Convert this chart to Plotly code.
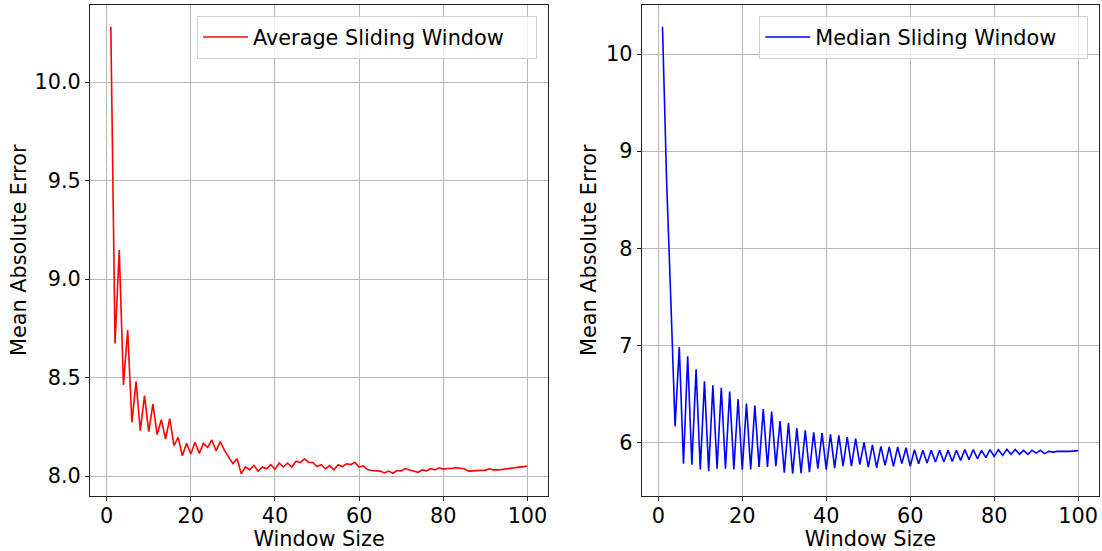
import plotly.graph_objects as go

window_sizes = list(range(1, 101))

avg_mae = [
    10.28, 8.673, 9.147, 8.462, 8.741, 8.272, 8.480, 8.230, 8.408, 8.225,
    8.365, 8.210, 8.286, 8.188, 8.292, 8.154, 8.196, 8.103, 8.166, 8.112,
    8.171, 8.115, 8.166, 8.145, 8.183, 8.128, 8.175, 8.130, 8.096, 8.063,
    8.088, 8.012, 8.046, 8.032, 8.054, 8.024, 8.046, 8.037, 8.058, 8.034,
    8.066, 8.046, 8.066, 8.046, 8.075, 8.068, 8.087, 8.070, 8.069, 8.048,
    8.057, 8.037, 8.053, 8.031, 8.057, 8.048, 8.062, 8.058, 8.070, 8.045,
    8.052, 8.033, 8.028, 8.025, 8.025, 8.016, 8.025, 8.014, 8.028, 8.026,
    8.038, 8.031, 8.025, 8.019, 8.031, 8.026, 8.037, 8.031, 8.042, 8.035,
    8.038, 8.038, 8.042, 8.038, 8.037, 8.025, 8.026, 8.026, 8.028, 8.030,
    8.037, 8.031, 8.031, 8.033, 8.037, 8.040, 8.042, 8.045, 8.047, 8.050,
]

median_mae = [
    10.28, 8.673, 7.45, 6.168, 6.985, 5.784, 6.889, 5.773, 6.755, 5.725,
    6.631, 5.707, 6.590, 5.732, 6.566, 5.732, 6.525, 5.725, 6.449, 5.722,
    6.402, 5.725, 6.381, 5.749, 6.346, 5.749, 6.319, 5.759, 6.222, 5.691,
    6.202, 5.681, 6.147, 5.687, 6.127, 5.697, 6.106, 5.732, 6.099, 5.722,
    6.085, 5.738, 6.075, 5.759, 6.058, 5.759, 6.041, 5.773, 6.003, 5.749,
    5.977, 5.742, 5.962, 5.766, 5.955, 5.756, 5.955, 5.784, 5.948, 5.756,
    5.928, 5.784, 5.921, 5.790, 5.921, 5.800, 5.921, 5.800, 5.921, 5.807,
    5.921, 5.818, 5.928, 5.825, 5.928, 5.835, 5.921, 5.846, 5.928, 5.859,
    5.928, 5.869, 5.931, 5.880, 5.931, 5.880, 5.921, 5.880, 5.921, 5.893,
    5.921, 5.887, 5.910, 5.903, 5.910, 5.907, 5.910, 5.910, 5.913, 5.918,
]

left_yticks = [8.0, 8.5, 9.0, 9.5, 10.0]
right_yticks = [6, 7, 8, 9, 10]
xticks = [0, 20, 40, 60, 80, 100]

FONT = "DejaVu Sans"
FS = 20.8
W, H = 1102, 551


def padded(vals, frac=0.05):
    lo, hi = min(vals), max(vals)
    d = (hi - lo) * frac
    return [lo - d, hi + d]


fig = go.Figure()
fig.add_trace(go.Scatter(x=window_sizes, y=avg_mae, mode="lines",
                         name="Average Sliding Window",
                         line=dict(color="#ff0000", width=1.6),
                         xaxis="x", yaxis="y", legend="legend"))
fig.add_trace(go.Scatter(x=window_sizes, y=median_mae, mode="lines",
                         name="Median Sliding Window",
                         line=dict(color="#0000ff", width=1.6),
                         xaxis="x2", yaxis="y2", legend="legend2"))

axis_common = dict(
    showline=True, linecolor="#222222", linewidth=1, mirror=True,
    ticks="outside", ticklen=4, tickwidth=1, tickcolor="#222222",
    showgrid=True, gridcolor="#b8b8b8", gridwidth=0.8,
    zeroline=False,
    tickfont=dict(family=FONT, size=FS, color="black"),
)

xaxis_extra = dict(ticklabelstandoff=-3)

yd = [1 - 496 / H, 1 - 4.5 / H]

legend_common = dict(
    y=1 - 16 / H, xanchor="right", yanchor="top", orientation="h",
    bgcolor="rgba(255,255,255,0.8)", bordercolor="#d0d0d0", borderwidth=1,
    font=dict(family=FONT, size=FS, color="black"), itemwidth=45,
)

fig.update_layout(
    width=W, height=H,
    margin=dict(l=0, r=0, t=0, b=0),
    paper_bgcolor="white", plot_bgcolor="white",
    font=dict(family=FONT, size=FS, color="black"),
    xaxis=dict(axis_common, **xaxis_extra, domain=[90 / W, 548.3 / W], range=padded(window_sizes),
               tickvals=xticks, anchor="y",
               title=dict(text="Window Size", font=dict(family=FONT, size=FS), standoff=3)),
    yaxis=dict(axis_common, domain=yd, range=padded(avg_mae), tickvals=left_yticks,
               tickformat=".1f", anchor="x",
               title=dict(text="Mean Absolute Error", font=dict(family=FONT, size=FS), standoff=2)),
    xaxis2=dict(axis_common, **xaxis_extra, domain=[641.7 / W, 1099 / W], range=padded(window_sizes),
                tickvals=xticks, anchor="y2",
                title=dict(text="Window Size", font=dict(family=FONT, size=FS), standoff=3)),
    yaxis2=dict(axis_common, domain=yd, range=padded(median_mae), tickvals=right_yticks,
                anchor="x2",
                title=dict(text="Mean Absolute Error", font=dict(family=FONT, size=FS), standoff=3)),
    legend=dict(legend_common, x=537 / W, entrywidth=278),
    legend2=dict(legend_common, x=1088.3 / W, entrywidth=267),
    showlegend=True,
)

fig.write_html("out.html", config={"displayModeBar": False},
               post_script="document.body.style.margin='0';document.body.style.overflow='hidden';")
